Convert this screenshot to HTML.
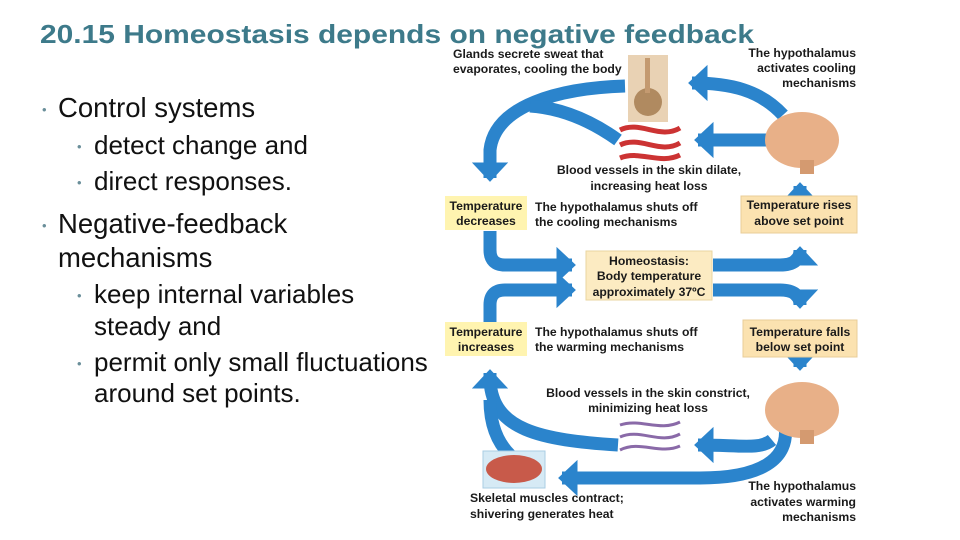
<!DOCTYPE html>
<html><head><meta charset="utf-8"><style>
html,body{margin:0;padding:0;background:#fff;}
svg{display:block;}
.t{font-family:"Liberation Sans",sans-serif;}
.s{font-family:"Liberation Sans",sans-serif;font-weight:bold;font-size:12.2px;fill:#1a1a1a;}
.b{fill:#6a8f9a;font-size:13px;}
</style></head><body>
<svg width="960" height="540" viewBox="0 0 960 540" xmlns="http://www.w3.org/2000/svg">
<defs>
<marker id="ah" markerWidth="3" markerHeight="3" refX="1.2" refY="1.4" orient="auto" markerUnits="strokeWidth">
<path d="M0,0 L1.5,1.4 L0,2.8 Z" fill="#2b84cc"/></marker>
</defs>
<text class="t" x="40" y="43" font-size="26" font-weight="bold" fill="#3d7a8a" textLength="714" lengthAdjust="spacingAndGlyphs">20.15 Homeostasis depends on negative feedback</text>
<g class="t" fill="#111">
<text class="b" x="42" y="114">•</text><text x="58" y="117" font-size="27.5">Control systems</text>
<text class="b" x="77" y="151">•</text><text x="94" y="154" font-size="26">detect change and</text>
<text class="b" x="77" y="187">•</text><text x="94" y="190" font-size="26">direct responses.</text>
<text class="b" x="42" y="230">•</text><text x="58" y="233" font-size="27.5">Negative-feedback</text>
<text x="58" y="267" font-size="27.5">mechanisms</text>
<text class="b" x="77" y="300">•</text><text x="94" y="303" font-size="26">keep internal variables</text>
<text x="94" y="335" font-size="26">steady and</text>
<text class="b" x="77" y="368">•</text><text x="94" y="371" font-size="26">permit only small fluctuations</text>
<text x="94" y="402" font-size="26">around set points.</text>
</g>
<g fill="none" stroke="#2b84cc" stroke-width="13">
<path d="M783,115 C760,90 730,83 692,83" marker-end="url(#ah)"/>
<path d="M625,86 C560,88 495,105 490,150 L490,178" marker-end="url(#ah)"/>
<path d="M618,140 C590,120 560,108 530,106"/>
<path d="M772,140 L698,140" marker-end="url(#ah)"/>
<path d="M800,196 L800,186" marker-end="url(#ah)"/>
<path d="M490,231 L490,250 Q490,265 505,265 L572,265" marker-end="url(#ah)"/>
<path d="M713,265 L780,265 Q800,265 800,250" marker-end="url(#ah)"/>
<path d="M490,322 L490,305 Q490,290 505,290 L572,290" marker-end="url(#ah)"/>
<path d="M713,290 L780,290 Q800,290 800,305" marker-end="url(#ah)"/>
<path d="M800,357 L800,367" marker-end="url(#ah)"/>
<path d="M772,440 C760,450 740,445 698,445" marker-end="url(#ah)"/>
<path d="M618,445 C540,440 492,430 490,380 L490,373" marker-end="url(#ah)"/>
<path d="M510,455 C495,440 490,420 490,400"/>
<path d="M785,425 C790,460 760,478 700,478 L562,478" marker-end="url(#ah)"/>
</g>
<rect x="628" y="55" width="40" height="67" fill="#e9d2b4"/>
<circle cx="648" cy="102" r="14" fill="#b08a60"/>
<rect x="645" y="58" width="5" height="35" fill="#c49a70"/>
<g stroke="#c33" stroke-width="5" fill="none">
<path d="M620,130 C640,120 660,140 680,128"/><path d="M620,145 C640,135 660,155 680,143"/><path d="M620,158 C640,150 660,165 680,155"/></g>
<g stroke="#8a6aa8" stroke-width="3" fill="none">
<path d="M620,425 C640,418 660,432 680,422"/><path d="M620,437 C640,428 660,445 680,434"/><path d="M620,450 C640,440 660,455 680,446"/></g>
<ellipse cx="802" cy="140" rx="37" ry="28" fill="#e8b088"/>
<rect x="800" y="160" width="14" height="14" fill="#d49a70"/>
<ellipse cx="802" cy="410" rx="37" ry="28" fill="#e8b088"/>
<rect x="800" y="430" width="14" height="14" fill="#d49a70"/>
<rect x="483" y="451" width="62" height="37" fill="#d6eaf5" stroke="#a9cde3"/>
<ellipse cx="514" cy="469" rx="28" ry="14" fill="#c85a4a"/>
<rect x="445" y="196" width="82" height="34" fill="#fff4b0"/>
<rect x="741" y="196" width="116" height="37" fill="#fbe2b0" stroke="#e8cd98"/>
<rect x="586" y="251" width="126" height="49" fill="#fcebc2" stroke="#ead6a0"/>
<rect x="445" y="322" width="82" height="34" fill="#fff4b0"/>
<rect x="743" y="320" width="114" height="37" fill="#fbe2b0" stroke="#e8cd98"/>
<text class="s" x="453" y="58">Glands secrete sweat that</text>
<text class="s" x="453" y="73">evaporates, cooling the body</text>
<text class="s" x="856" y="57" text-anchor="end">The hypothalamus</text>
<text class="s" x="856" y="72" text-anchor="end">activates cooling</text>
<text class="s" x="856" y="87" text-anchor="end">mechanisms</text>
<text class="s" x="649" y="174" text-anchor="middle" font-size="13">Blood vessels in the skin dilate,</text>
<text class="s" x="649" y="190" text-anchor="middle" font-size="13">increasing heat loss</text>
<text class="s" x="486" y="210" text-anchor="middle">Temperature</text>
<text class="s" x="486" y="225" text-anchor="middle">decreases</text>
<text class="s" x="535" y="211" font-size="13">The hypothalamus shuts off</text>
<text class="s" x="535" y="226" font-size="13">the cooling mechanisms</text>
<text class="s" x="799" y="209" text-anchor="middle">Temperature rises</text>
<text class="s" x="799" y="225" text-anchor="middle">above set point</text>
<text class="s" x="649" y="265" text-anchor="middle">Homeostasis:</text>
<text class="s" x="649" y="280" text-anchor="middle">Body temperature</text>
<text class="s" x="649" y="296" text-anchor="middle">approximately 37ºC</text>
<text class="s" x="486" y="336" text-anchor="middle">Temperature</text>
<text class="s" x="486" y="351" text-anchor="middle">increases</text>
<text class="s" x="535" y="336" font-size="13">The hypothalamus shuts off</text>
<text class="s" x="535" y="351" font-size="13">the warming mechanisms</text>
<text class="s" x="800" y="336" text-anchor="middle">Temperature falls</text>
<text class="s" x="800" y="351" text-anchor="middle">below set point</text>
<text class="s" x="648" y="397" text-anchor="middle" font-size="13">Blood vessels in the skin constrict,</text>
<text class="s" x="648" y="412" text-anchor="middle" font-size="13">minimizing heat loss</text>
<text class="s" x="470" y="502">Skeletal muscles contract;</text>
<text class="s" x="470" y="518">shivering generates heat</text>
<text class="s" x="856" y="490" text-anchor="end">The hypothalamus</text>
<text class="s" x="856" y="506" text-anchor="end">activates warming</text>
<text class="s" x="856" y="521" text-anchor="end">mechanisms</text>
</svg>
</body></html>
